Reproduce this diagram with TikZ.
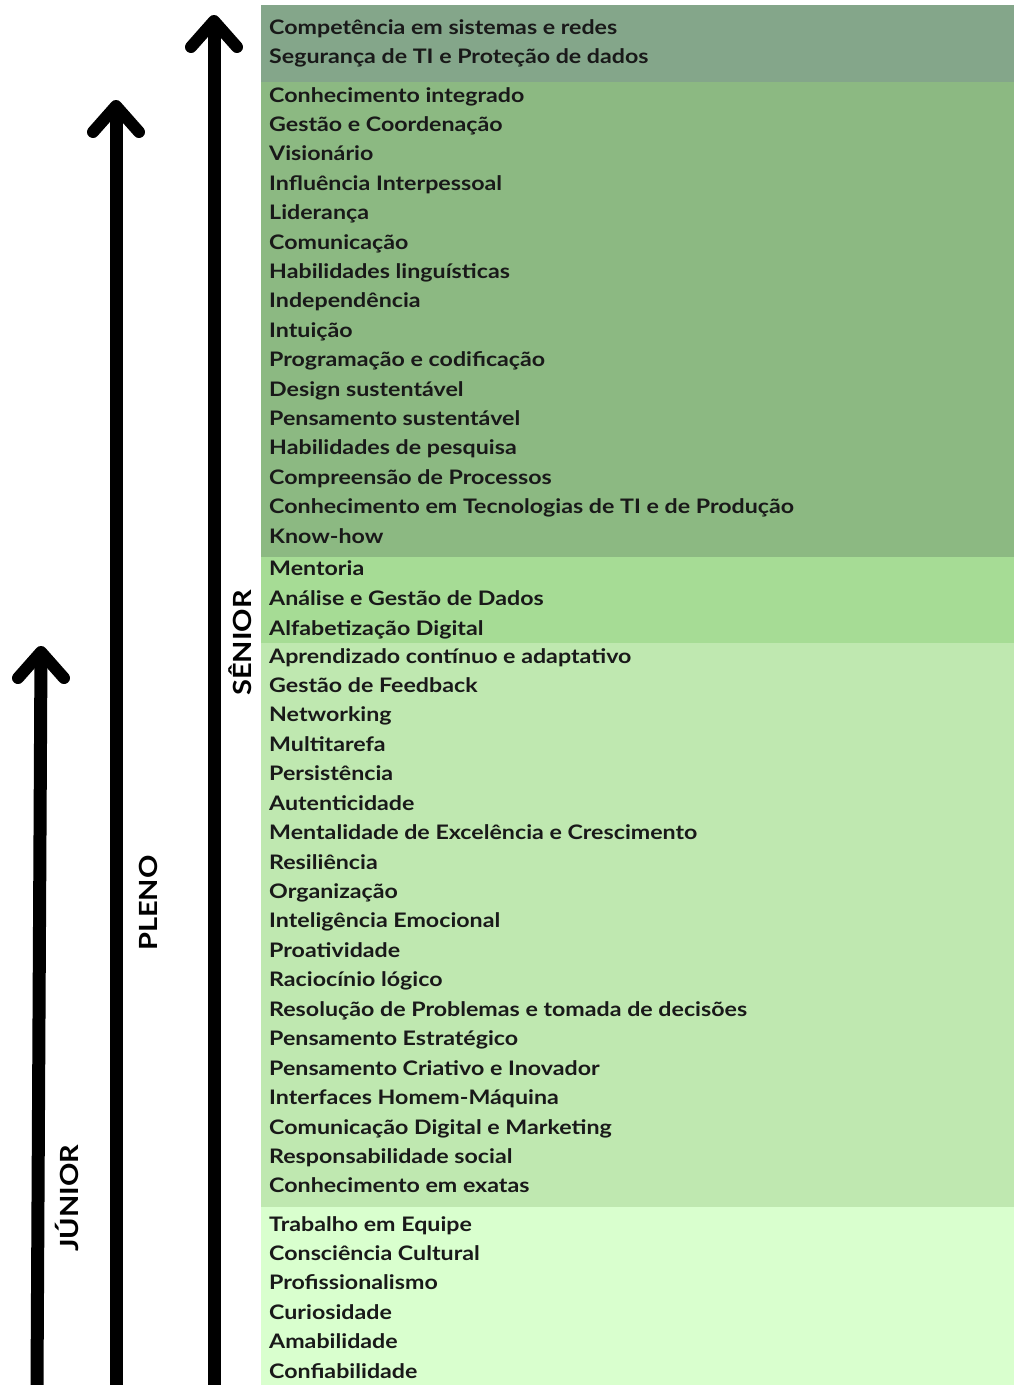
\documentclass[tikz,border=0pt]{standalone}
\usepackage{fontspec}
\setmainfont{Lato}[FakeStretch=1.16]
\usepackage{xcolor}
\usepackage{tikz}
\usetikzlibrary{calc}

\definecolor{bandA}{HTML}{84A68A}
\definecolor{bandB}{HTML}{8CB982}
\definecolor{bandC}{HTML}{A6DC95}
\definecolor{bandD}{HTML}{BFE8B0}
\definecolor{bandE}{HTML}{D9FFCE}

\begin{document}
\begin{tikzpicture}[x=1pt, y=-1pt]%%carreira

                \tikzstyle{item}  = [anchor=base west, inner sep=0pt, font=\fontsize{20}{24}\selectfont\bfseries, text=black!90]
                \tikzstyle{level} = [rotate=90, inner sep=0pt, font=\fontsize{25}{28}\selectfont\bfseries]
                \tikzstyle{stem}  = [line width=13pt, line cap=butt]
                \tikzstyle{head}  = [line width=12pt, line cap=round, line join=round]

                \fill[white] (0,0) rectangle (1014,1385);
                \useasboundingbox (0,0) rectangle (1014,1385);

                \fill[bandA] (261,5) rectangle (1014,82);
                \fill[bandB] (261,82) rectangle (1014,557);
                \fill[bandC] (261,557) rectangle (1014,643);
                \fill[bandD] (261,643) rectangle (1014,1207);
                \fill[bandE] (261,1207) rectangle (1014,1385);

                \foreach \t [count=\i from 0] in {Competência em sistemas e redes, Segurança de TI e Proteção de dados}{
                        \node [item](a\i) at (269, 34+29.6*\i) {\t};
                }
                \foreach \t [count=\i from 0] in {Conhecimento integrado, Gestão e Coordenação, Visionário, Influência Interpessoal, Liderança, Comunicação, Habilidades linguísticas, Independência, Intuição, Programação e codificação, Design sustentável, Pensamento sustentável, Habilidades de pesquisa, Compreensão de Processos, Conhecimento em Tecnologias de TI e de Produção, Know-how}{
                        \node [item](b\i) at (269, 102+29.4*\i) {\t};
                }
                \foreach \t [count=\i from 0] in {Mentoria, Análise e Gestão de Dados, Alfabetização Digital}{
                        \node [item](c\i) at (269, 575+30*\i) {\t};
                }
                \foreach \t [count=\i from 0] in {Aprendizado contínuo e adaptativo, Gestão de Feedback, Networking, Multitarefa, Persistência, Autenticidade, Mentalidade de Excelência e Crescimento, Resiliência, Organização, Inteligência Emocional, Proatividade, Raciocínio lógico, Resolução de Problemas e tomada de decisões, Pensamento Estratégico, Pensamento Criativo e Inovador, Interfaces Homem-Máquina, Comunicação Digital e Marketing, Responsabilidade social, Conhecimento em exatas}{
                        \node [item](d\i) at (269, 663+29.44*\i) {\t};
                }
                \foreach \t [count=\i from 0] in {Trabalho em Equipe, Consciência Cultural, Profissionalismo, Curiosidade, Amabilidade, Confiabilidade}{
                        \node [item](e\i) at (269, 1231+29.4*\i) {\t};
                }

                \coordinate (jbot) at (37,1385);
                \coordinate (jtop) at (41,652);
                \coordinate (pbot) at (116,1385);
                \coordinate (ptop) at (116,106);
                \coordinate (sbot) at (214,1385);
                \coordinate (stop) at (214,21);

                \draw [stem] (jbot) -- (jtop);
                \draw [stem] (pbot) -- (ptop);
                \draw [stem] (sbot) -- (stop);
                \foreach \a in {j,p,s}{
                        \draw [head] ($(\a top)+(-23,26)$) -- (\a top) -- ($(\a top)+(23,26)$);
                }

                \node [level](junior) at (67,1198) {JÚNIOR};
                \node [level](pleno) at (148,903) {PLENO};
                \node [level](senior) at (240,643) {SÊNIOR};
\end{tikzpicture}
\end{document}
